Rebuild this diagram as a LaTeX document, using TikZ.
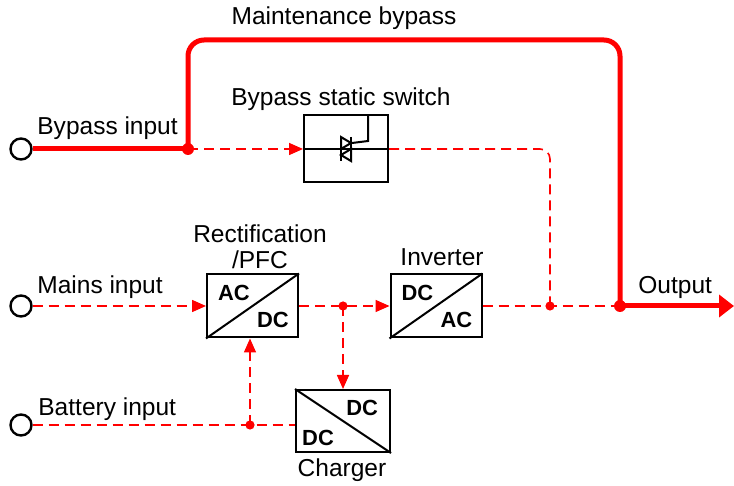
\documentclass[tikz,border=0pt]{standalone}
\usepackage{fontspec}
\setmainfont{Liberation Sans}
\usetikzlibrary{positioning, arrows.meta, calc}

\tikzset{
  conv/.style={draw=black, line width=1bp, fill=white, minimum width=45.5bp, minimum height=31.5bp, inner sep=0pt},
  term/.style={circle, draw=black, line width=1.2bp, fill=white, minimum size=10.5bp, inner sep=0pt},
  lbl/.style={font=\fontsize{12.3}{13}\selectfont, text=black, inner sep=0pt},
  convtxt/.style={font=\fontsize{11}{13}\selectfont\bfseries, text=black, inner sep=0pt},
  power/.style={red, line width=2.5bp, line join=round},
  signal/.style={red, line width=0.8bp, dash pattern=on 5bp off 3bp},
  tip/.style={-{Triangle[length=7bp, width=6bp]}},
}

\begin{document}
\begin{tikzpicture}[x=0.5bp, y=-0.5bp]
      \useasboundingbox (0,0) rectangle (734,486);
      % terminals and blocks
      \node[term] (byp) at (21,149) {};
      \node[term] (mains) at (21,306) {};
      \node[term] (batt) at (21,425) {};
      \node[conv] (rect) at (252.5,306) {};
      \node[conv] (inv) at (436,306) {};
      \node[conv, minimum width=47bp, minimum height=31bp] (chg) at (343,421) {};
      \node[conv, minimum width=42bp, minimum height=33.5bp] (ss) at (346,149) {};
      % junctions
      \coordinate (j1) at (188,149);
      \coordinate (jout) at (620,306);
      \coordinate (jinv) at (343,306);
      \coordinate (jss) at (550,306);
      \coordinate (jbat) at (250,425);
      \coordinate (mbl) at (188,40);
      \coordinate (mbr) at (620,40);
      \coordinate (ssr) at (550,149);
      \coordinate (outend) at (734,306);

      % power paths
      \draw[power] (byp.east) -- (j1);
      \draw[power, rounded corners=8bp] (j1) -- (mbl) -- (mbr) -- (jout);
      \draw[power, -{Triangle[length=7.5bp, width=11bp]}] (jout) -- (outend);

      % signal paths
      \draw[signal, tip] (j1) -- (ss.west);
      \draw[signal, rounded corners=5bp] (ss.east) -- (ssr) -- (jss);
      \draw[signal, tip] (mains.east) -- (rect.west);
      \draw[signal, tip] (rect.east) -- (inv.west);
      \draw[signal] (inv.east) -- (jout);
      \draw[signal, tip] (jinv) -- (chg.north);
      \draw[signal] (batt.east) -- (batt -| chg.west);
      \draw[signal, tip] (jbat) -- (jbat |- rect.south);

      % dots
      \fill[red] (j1) circle (3bp);
      \fill[red] (jout) circle (3bp);
      \fill[red] (jinv) circle (2.3bp);
      \fill[red] (jss) circle (2.3bp);
      \fill[red] (jbat) circle (2.3bp);

      % converter symbols
      \draw[line width=1bp] (rect.south west) -- (rect.north east);
      \draw[line width=1bp] (inv.south west) -- (inv.north east);
      \draw[line width=1bp] (chg.north west) -- (chg.south east);
      \node[convtxt] (rectac) at ($(rect.north west)!.3!(rect.south east)$) {AC};
      \node[convtxt] (rectdc) at ($(rect.north west)!.72!(rect.south east)$) {DC};
      \node[convtxt] (invdc) at ($(inv.north west)!.3!(inv.south east)$) {DC};
      \node[convtxt] (invac) at ($(inv.north west)!.72!(inv.south east)$) {AC};
      \node[convtxt] (chgdc1) at ($(chg.north east)!.3!(chg.south west)$) {DC};
      \node[convtxt] (chgdc2) at ($(chg.north east)!.76!(chg.south west)$) {DC};

      % static switch (triac)
      \draw[line width=1bp] (ss.west) -- (ss.east);
      \draw[line width=1bp] (341,137) -- (341,161) (351,137) -- (351,161);
      \draw[line width=1bp] (341,137) -- (351,143) -- (341,149) -- cycle;
      \draw[line width=1bp] (351,149) -- (341,155) -- (351,161) -- cycle;
      \draw[line width=1bp] (352,143) -- (368,141) -- ($(ss.north)+(22,0)$);

      % labels
      \node[lbl] (lmb) at (344,18) {Maintenance bypass};
      \node[lbl] (lss) at (341,99) {Bypass static switch};
      \node[lbl, anchor=west] (lbyp) at (37,128) {Bypass input};
      \node[lbl, align=center] (lrect) at (260,247) {Rectification\\/PFC};
      \node[lbl] (linv) at (442,257) {Inverter};
      \node[lbl, anchor=west] (lmains) at (37,287) {Mains input};
      \node[lbl, anchor=west] (lout) at (638,287) {Output};
      \node[lbl, anchor=west] (lbatt) at (38,409) {Battery input};
      \node[lbl] (lchg) at (342,470) {Charger};
  \end{tikzpicture}
\end{document}
